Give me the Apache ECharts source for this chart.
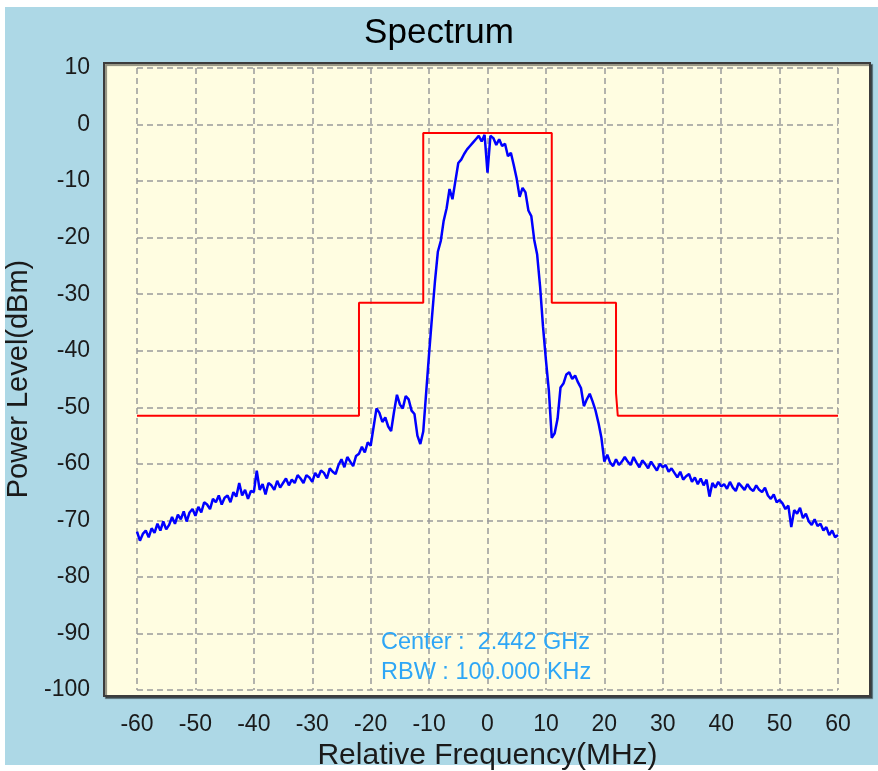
<!DOCTYPE html>
<html>
<head>
<meta charset="utf-8">
<title>Spectrum</title>
<script src="https://cdn.jsdelivr.net/npm/echarts@6/dist/echarts.min.js"></script>
<style>
  html, body { margin: 0; padding: 0; background: #ffffff; }
  #container { width: 878px; height: 771px; }
</style>
</head>
<body>
<div id="container"></div>
<script>
var myChart = echarts.init(document.getElementById("container"));

// sweep: -60 MHz .. 60 MHz, one reading every 0.5 MHz
var freqStart = -60;
var freqStep = 0.5;

var powerLevel = [
    -72.0, -73.6, -72.4, -71.8, -73.0, -71.4, -72.2, -70.6, -71.8, -70.2,
    -71.6, -70.8, -69.4, -70.6, -69.0, -69.8, -68.4, -70.2, -68.6, -68.0, -69.2,
    -67.6, -68.6, -66.8, -67.2, -68.0, -66.2, -66.8, -65.6, -67.2, -66.0,
    -65.6, -66.8, -65.0, -65.8, -63.4, -65.6, -64.6, -66.2, -64.8, -65.0,
    -61.2, -64.6, -63.6, -65.4, -63.4, -63.8, -64.6, -63.0, -64.2, -63.4,
    -62.6, -63.8, -62.8, -63.4, -62.0, -62.6, -63.4, -62.0, -62.4, -63.2,
    -61.6, -62.4, -61.2, -61.6, -62.6, -60.8, -61.4, -61.8, -60.2, -59.2,
    -60.6, -58.8, -59.6, -60.4, -58.6, -58.2, -57.0, -58.0, -56.2, -56.8,
    -53.5, -50.2, -51.0, -52.6, -51.8, -53.4, -54.2, -50.8, -47.8, -49.5,
    -50.2, -48.0, -48.6, -50.6, -51.2, -55.0, -56.5, -54.3, -47.4, -40.5,
    -34.0, -27.8, -22.5, -20.6, -17.0, -14.8, -11.4, -13.2, -10.0, -6.8,
    -6.2, -5.2, -4.4, -3.8, -3.2, -2.6, -2.0, -3.0, -1.8, -8.5,
    -2.0, -2.4, -3.6, -2.6, -3.8, -3.4, -5.6, -5.0, -7.2, -9.6,
    -12.8, -11.2, -12.0, -15.2, -16.2, -20.4, -23.0, -28.6, -35.7, -41.6,
    -47.0, -55.4, -54.6, -52.0, -46.5, -45.8, -44.2, -43.8, -45.0, -44.4,
    -45.6, -46.6, -49.8, -48.6, -47.6, -49.0, -50.6, -52.8, -55.4, -59.6,
    -58.4, -59.8, -60.4, -59.2, -60.2, -59.6, -58.8, -59.6, -60.2, -58.8,
    -59.8, -60.6, -59.4, -60.0, -60.8, -59.6, -60.4, -61.2, -60.0, -60.6,
    -60.2, -61.4, -60.8, -61.6, -62.4, -61.4, -62.8, -62.2, -61.8, -63.2,
    -62.4, -63.6, -62.6, -63.8, -62.8, -65.8, -63.4, -64.2, -63.2, -64.0,
    -63.6, -64.4, -63.2, -64.2, -64.8, -63.4, -64.0, -64.6, -63.6, -64.4,
    -64.8, -63.8, -64.6, -65.0, -64.2, -65.6, -66.2, -65.4, -66.8, -66.4,
    -67.0, -68.0, -67.4, -71.2, -68.2, -68.8, -67.8, -69.6, -68.8, -70.2,
    -70.8, -69.8, -71.0, -70.6, -71.8, -71.2, -72.6, -71.8, -73.0, -72.6
];

// spectrum mask (red limit line) corners
var maskFreq  = [-60, -22, -22, -11, -11, 11, 11, 22, 22, 22.3, 22.3, 60];
var maskLevel = [-51.5, -51.5, -31.5, -31.5, -1.5, -1.5, -31.5, -31.5, -47.5, -47.5, -51.5, -51.5];

var infoLines = ["Center :  2.442 GHz", "RBW : 100.000 KHz"];

var traceData = powerLevel.map(function (v, i) {
    return [freqStart + i * freqStep, v];
});
var maskData = maskFreq.map(function (f, i) {
    return [f, maskLevel[i]];
});

var fontName = "Liberation Sans, Arial, sans-serif";

myChart.setOption({
    backgroundColor: "#ffffff",
    animation: false,
    title: {
        text: "Spectrum",
        left: "center",
        top: 11,
        textStyle: { fontFamily: fontName, fontSize: 35, fontWeight: "normal", color: "#000000" }
    },
    graphic: [
        {
            type: "rect", z: -20, silent: true,
            shape: { x: 5, y: 7, width: 873, height: 758 },
            style: { fill: "#ADD8E6" }
        },
        {
            type: "rect", z: -10, silent: true,
            shape: { x: 104, y: 63, width: 766, height: 633 },
            style: {
                fill: "#FFFDE1", stroke: "#3c3c3c", lineWidth: 2,
                shadowColor: "rgba(0,0,0,0.45)", shadowOffsetX: 2, shadowOffsetY: 2, shadowBlur: 1
            }
        },
        {
            type: "text", z: 100, silent: true,
            left: 381, top: 631,
            style: { text: infoLines[0], font: "23.5px " + fontName, fill: "#2EA6F6" }
        },
        {
            type: "text", z: 100, silent: true,
            left: 381, top: 661,
            style: { text: infoLines[1], font: "23.5px " + fontName, fill: "#2EA6F6" }
        }
    ],
    grid: {
        left: 137,
        right: 40,
        top: 68,
        bottom: 81,
        containLabel: false,
        outerBoundsMode: "none"
    },
    xAxis: {
        type: "value",
        min: -60,
        max: 60,
        interval: 10,
        name: "Relative Frequency(MHz)",
        nameLocation: "middle",
        nameGap: 39,
        nameTextStyle: { fontFamily: fontName, fontSize: 30, color: "#1a1a1a" },
        axisLine: { show: false },
        axisTick: { show: false },
        axisLabel: { margin: 23, fontFamily: fontName, fontSize: 23, color: "#1a1a1a" },
        splitLine: {
            show: true,
            lineStyle: { color: "#9a9a9a", width: 1.5, type: [6, 4] }
        }
    },
    yAxis: {
        type: "value",
        min: -100,
        max: 10,
        interval: 10,
        name: "Power Level(dBm)",
        nameLocation: "middle",
        nameGap: 99,
        nameTextStyle: { fontFamily: fontName, fontSize: 29, color: "#1a1a1a" },
        axisLine: { show: false },
        axisTick: { show: false },
        axisLabel: { margin: 47, fontFamily: fontName, fontSize: 23, color: "#1a1a1a" },
        splitLine: {
            show: true,
            lineStyle: { color: "#9a9a9a", width: 1.5, type: [6, 4] }
        }
    },
    series: [
        {
            name: "Mask",
            type: "line",
            data: maskData,
            showSymbol: false,
            symbol: "none",
            lineStyle: { color: "#FF0000", width: 2 },
            z: 3
        },
        {
            name: "Trace",
            type: "line",
            data: traceData,
            showSymbol: false,
            symbol: "none",
            lineStyle: { color: "#0000FF", width: 2.5 },
            z: 4
        }
    ]
});
</script>
</body>
</html>
